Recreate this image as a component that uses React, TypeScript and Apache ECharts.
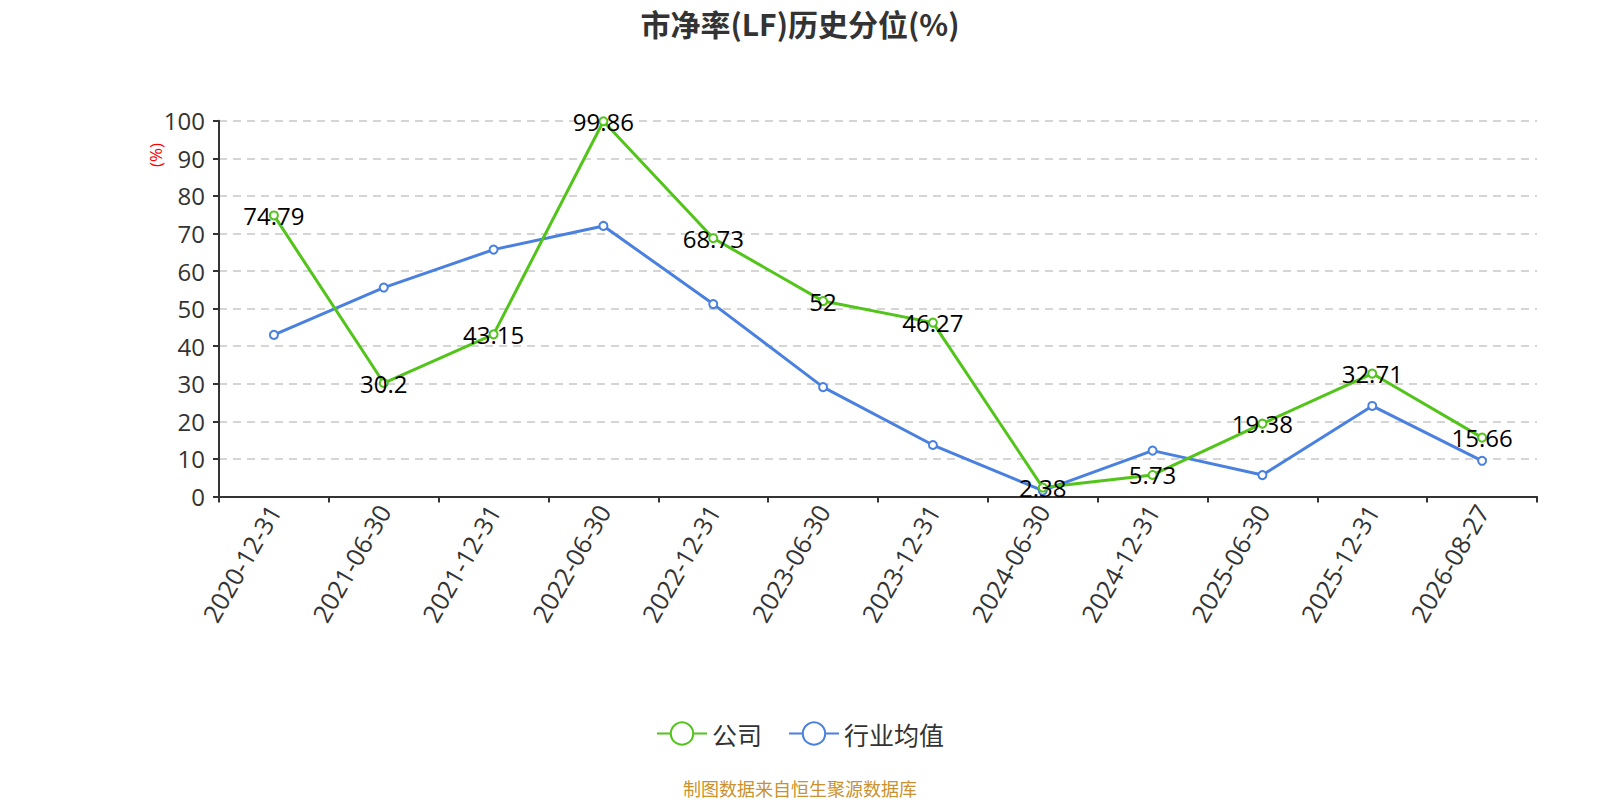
import React, { useEffect, useRef } from "react";
import * as echarts from "echarts";

const categories = [
  "2020-12-31", "2021-06-30", "2021-12-31", "2022-06-30", "2022-12-31", "2023-06-30",
  "2023-12-31", "2024-06-30", "2024-12-31", "2025-06-30", "2025-12-31", "2026-08-27",
];
const companyValues = [74.79, 30.2, 43.15, 99.86, 68.73, 52, 46.27, 2.38, 5.73, 19.38, 32.71, 15.66];
const industryValues = [43.0, 55.6, 65.7, 72.0, 51.2, 29.1, 13.7, 1.55, 12.2, 5.7, 24.1, 9.5];
const seriesNames = ["公司", "行业均值"];
const titleText = "市净率(LF)历史分位(%)";
const footerText = "制图数据来自恒生聚源数据库";
const unitText = "(%)";

const FONT = "'Open Sans', 'Noto Sans CJK SC', sans-serif";
const CJK = "'Noto Sans CJK SC', 'Open Sans', sans-serif";

export default function App() {
  const ref = useRef<HTMLDivElement>(null);
  useEffect(() => {
    if (!ref.current) return;
    const chart = echarts.init(ref.current, null, { renderer: "svg" });
    chart.setOption({
      animation: false,
      backgroundColor: "#ffffff",
      textStyle: { fontFamily: FONT },
      title: {
        text: titleText,
        left: "center",
        top: 3,
        textStyle: { fontSize: 30, fontWeight: "bold", color: "#333", fontFamily: CJK },
      },
      legend: {
        data: seriesNames,
        top: 716,
        left: "center",
        itemWidth: 50,
        itemHeight: 28,
        itemGap: 26,
        textStyle: { fontSize: 25, color: "#333", fontFamily: CJK },
      },
      graphic: [
        {
          type: "text",
          left: "center",
          top: 779,
          style: { text: footerText, fill: "#C9922E", fontSize: 18, fontFamily: CJK },
        },
        {
          type: "text",
          x: 155,
          y: 155,
          rotation: Math.PI / 2,
          style: {
            text: unitText,
            fill: "#ff0000",
            fontSize: 17,
            fontFamily: FONT,
            align: "center",
            verticalAlign: "middle",
          },
        },
      ],
      grid: { left: 219, right: 63, top: 120.7, bottom: 303.5, containLabel: false },
      xAxis: {
        type: "category",
        data: categories,
        boundaryGap: true,
        axisLine: { lineStyle: { color: "#333", width: 2 } },
        axisTick: { show: true, length: 6, lineStyle: { color: "#333", width: 2 } },
        axisLabel: { rotate: 60, fontSize: 25, color: "#333", margin: 10, interval: 0, fontFamily: FONT },
      },
      yAxis: {
        type: "value",
        min: 0,
        max: 100,
        interval: 10,
        axisLine: { show: true, lineStyle: { color: "#333", width: 2 } },
        axisTick: { show: true, length: 6, lineStyle: { color: "#333", width: 2 } },
        axisLabel: { fontSize: 24, color: "#333", margin: 14, fontFamily: FONT },
        splitLine: { show: true, lineStyle: { color: "#c8c8c8", type: [8, 6], width: 1.5 } },
      },
      series: [
        {
          name: seriesNames[0],
          type: "line",
          data: companyValues,
          symbol: "emptyCircle",
          symbolSize: 8,
          color: "#52C41A",
          lineStyle: { width: 3, color: "#52C41A" },
          itemStyle: { color: "#52C41A", borderWidth: 2 },
          label: {
            show: true,
            position: "inside",
            fontSize: 24,
            color: "#000",
            fontFamily: FONT,
          },
          z: 3,
        },
        {
          name: seriesNames[1],
          type: "line",
          data: industryValues,
          symbol: "emptyCircle",
          symbolSize: 8,
          color: "#4A80E0",
          lineStyle: { width: 3, color: "#4A80E0" },
          itemStyle: { color: "#4A80E0", borderWidth: 2 },
          label: { show: false },
          z: 2,
        },
      ],
    });
    return () => chart.dispose();
  }, []);
  return (
    <div
      ref={ref}
      style={{ position: "absolute", left: 0, top: 0, width: 1600, height: 800 }}
    />
  );
}
